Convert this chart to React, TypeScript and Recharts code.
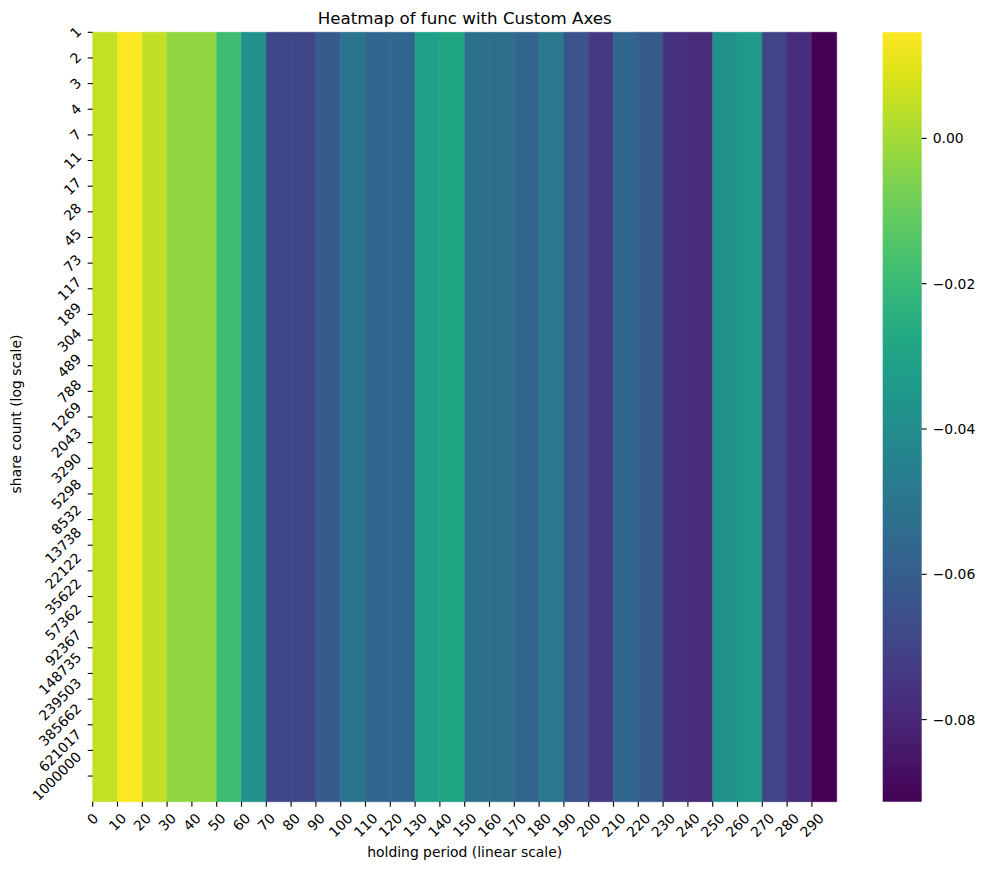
import React from 'react';
import { ComposedChart, XAxis, YAxis, ReferenceArea, Scatter } from 'recharts';

// ---- data ----
const holdingPeriods = [0, 10, 20, 30, 40, 50, 60, 70, 80, 90, 100, 110, 120, 130, 140, 150, 160, 170, 180, 190, 200, 210, 220, 230, 240, 250, 260, 270, 280, 290];
const shareCounts = [1, 2, 3, 4, 7, 11, 17, 28, 45, 73, 117, 189, 304, 489, 788, 1269, 2043, 3290, 5298, 8532, 13738, 22122, 35622, 57362, 92367, 148735, 239503, 385662, 621017, 1000000];
// value of func for each holding period (constant over share count)
const funcValues = [
  0.0051, 0.0146, 0.0045, -0.0031, -0.0031, -0.0188, -0.0384, -0.0691, -0.0691, -0.0611,
  -0.0505, -0.0564, -0.0564, -0.0309, -0.0288, -0.0526, -0.0526, -0.0569, -0.0489, -0.0643,
  -0.0733, -0.0564, -0.0616, -0.0765, -0.0781, -0.0384, -0.0341, -0.0701, -0.0775, -0.0913,
];
const colorbarTicks = [0, -0.02, -0.04, -0.06, -0.08];
const V_MIN = -0.0913;
const V_MAX = 0.0146;

// ---- style ----
const VIRIDIS = ['#440154', '#471365', '#482475', '#463480', '#414487', '#3b528b', '#355f8d', '#2f6c8e', '#2a788e', '#25848e', '#21918c', '#1e9c89', '#22a884', '#2fb47c', '#44bf70', '#5ec962', '#7ad151', '#9bd93c', '#bddf26', '#dfe318', '#fde725'];
const FONT = 'DejaVu Sans';
const FS = 13.9;
const W = 983;
const H = 870;
const PLOT_LEFT = 92.7;
const PLOT_RIGHT = 836.7;
const PLOT_TOP = 32.3;
const PLOT_BOTTOM = 801.7;
const CB_LEFT = 882.7;
const CB_RIGHT = 921.7;

const hexToRgb = (h: string) => [1, 3, 5].map((i) => parseInt(h.slice(i, i + 2), 16));
const viridis = (t: number) => {
  const c = Math.max(0, Math.min(1, t)) * (VIRIDIS.length - 1);
  const i = Math.min(Math.floor(c), VIRIDIS.length - 2);
  const f = c - i;
  const a = hexToRgb(VIRIDIS[i]);
  const b = hexToRgb(VIRIDIS[i + 1]);
  const m = a.map((v, k) => Math.round(v + (b[k] - v) * f));
  return `rgb(${m[0]},${m[1]},${m[2]})`;
};
const colorOf = (v: number) => viridis((v - V_MIN) / (V_MAX - V_MIN));

const textW = (s: string) => s.length * 0.636 * FS;

const XTick = (props: any) => {
  const { x, payload } = props;
  const label = String(holdingPeriods[payload.value]);
  const d = 0.354 * (textW(label) + 12);
  const cx = x;
  const cy = PLOT_BOTTOM + 9.7 + d;
  return (
    <text x={cx} y={cy} textAnchor="middle" dominantBaseline="central" transform={`rotate(-45 ${cx} ${cy})`} fontSize={FS} fontFamily={FONT} fill="#000">
      {label}
    </text>
  );
};

const YTick = (props: any) => {
  const { y, payload } = props;
  const label = String(shareCounts[payload.value]);
  const d = 0.354 * (textW(label) + 12);
  const cx = PLOT_LEFT - 9.7 - d;
  const cy = y;
  return (
    <text x={cx} y={cy} textAnchor="middle" dominantBaseline="central" transform={`rotate(-45 ${cx} ${cy})`} fontSize={FS} fontFamily={FONT} fill="#000">
      {label}
    </text>
  );
};

const cbFormat = (v: number) => (v === 0 ? '0.00' : (v < 0 ? '\u2212' : '') + Math.abs(v).toFixed(2));

const colIdx = holdingPeriods.map((_, i) => i);
const rowIdx = shareCounts.map((_, i) => i);
const centers = funcValues.map((v, i) => ({ col: i + 0.5, row: shareCounts.length / 2, v }));

export default function App() {
  const nCols = holdingPeriods.length;
  const nRows = shareCounts.length;
  return (
    <div style={{ position: 'absolute', left: 0, top: 0, width: W, height: H, background: '#fff' }}>
      <div style={{ position: 'absolute', left: 0, top: 0 }}>
        <ComposedChart
          width={W}
          height={H}
          data={centers}
          margin={{ top: PLOT_TOP, left: PLOT_LEFT - 60, right: W - PLOT_RIGHT, bottom: H - PLOT_BOTTOM - 30 }}
        >
          <XAxis
            type="number"
            dataKey="col"
            domain={[0, nCols]}
            ticks={colIdx}
            interval={0}
            height={30}
            axisLine={false}
            tickLine={{ stroke: '#000', strokeWidth: 1.1 }}
            tickSize={5}
            tick={<XTick />}
            allowDataOverflow
          />
          <YAxis
            type="number"
            dataKey="row"
            domain={[0, nRows]}
            reversed
            ticks={rowIdx}
            interval={0}
            width={60}
            axisLine={false}
            tickLine={{ stroke: '#000', strokeWidth: 1.1 }}
            tickSize={5}
            tick={<YTick />}
            allowDataOverflow
          />
          {funcValues.map((v, i) => (
            <ReferenceArea
              key={i}
              x1={i}
              x2={i + 1}
              y1={0}
              y2={nRows}
              fill={colorOf(v)}
              fillOpacity={1}
              stroke={colorOf(v)}
              strokeWidth={0.6}
              strokeOpacity={1}
            />
          ))}
          <Scatter data={centers} dataKey="row" shape={() => <g />} isAnimationActive={false} />
        </ComposedChart>
      </div>
      <div style={{ position: 'absolute', left: 0, top: 0 }}>
        <ComposedChart
          width={W}
          height={H}
          data={[{ x: 0.5, y: 0 }]}
          margin={{ top: PLOT_TOP, left: CB_LEFT, right: W - CB_RIGHT - 60, bottom: H - PLOT_BOTTOM }}
        >
          <defs>
            <linearGradient id="viridisGrad" x1="0" y1="1" x2="0" y2="0">
              {VIRIDIS.map((c, i) => (
                <stop key={i} offset={`${(i / (VIRIDIS.length - 1)) * 100}%`} stopColor={c} />
              ))}
            </linearGradient>
          </defs>
          <XAxis type="number" dataKey="x" domain={[0, 1]} hide />
          <YAxis
            type="number"
            dataKey="y"
            orientation="right"
            domain={[V_MIN, V_MAX]}
            ticks={colorbarTicks}
            interval={0}
            width={60}
            axisLine={false}
            tickLine={{ stroke: '#000', strokeWidth: 1.1 }}
            tickSize={5}
            tickMargin={6}
            tickFormatter={cbFormat}
            tick={{ fontSize: FS, fontFamily: FONT, fill: '#000' }}
            allowDataOverflow
          />
          <ReferenceArea x1={0} x2={1} y1={V_MIN} y2={V_MAX} fill="url(#viridisGrad)" fillOpacity={1} stroke="none" />
          <Scatter data={[{ x: 0.5, y: 0 }]} dataKey="y" shape={() => <g />} isAnimationActive={false} />
        </ComposedChart>
      </div>
      <svg width={W} height={H} style={{ position: 'absolute', left: 0, top: 0, pointerEvents: 'none' }}>
        <text x={(PLOT_LEFT + PLOT_RIGHT) / 2} y={24} textAnchor="middle" fontSize={16.67} fontFamily={FONT} fill="#000">
          Heatmap of func with Custom Axes
        </text>
        <text x={(PLOT_LEFT + PLOT_RIGHT) / 2} y={857} textAnchor="middle" fontSize={FS} fontFamily={FONT} fill="#000">
          holding period (linear scale)
        </text>
        <text x={21} y={414} textAnchor="middle" fontSize={FS} fontFamily={FONT} fill="#000" transform="rotate(-90 21 414)">
          share count (log scale)
        </text>
      </svg>
    </div>
  );
}
